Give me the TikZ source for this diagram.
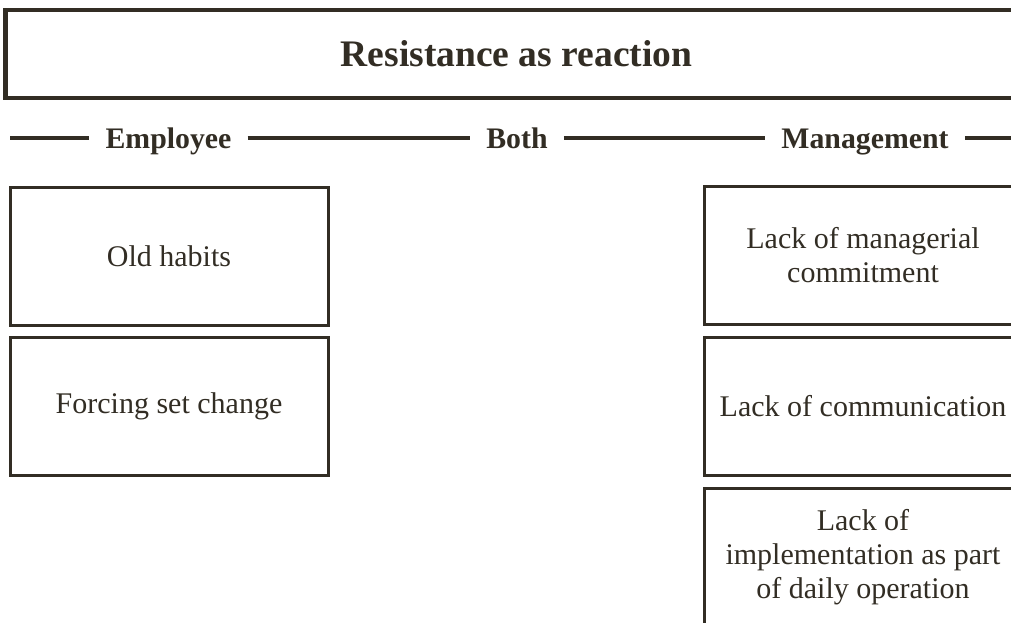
\documentclass[tikz,border=0pt]{standalone}
\usepackage{fontspec}
\setmainfont{Liberation Serif}
\definecolor{ink}{RGB}{50,45,36}
\begin{document}
\begin{tikzpicture}[x=1pt,y=-1pt,
  every node/.style={text=ink},
  headbox/.style={draw=ink, line width=4.2pt, minimum width=1022pt, minimum height=88pt,
    inner sep=0pt, font=\bfseries\fontsize{37.5}{40}\selectfont},
  cause/.style={draw=ink, line width=3pt, minimum width=318pt, minimum height=138pt,
    inner sep=0pt, align=center, font=\fontsize{30}{34}\selectfont},
  side/.style={anchor=base, inner xsep=16pt, inner ysep=0pt,
    font=\bfseries\fontsize{29.8}{33}\selectfont},
  rule/.style={draw=ink, line width=4.8pt},
]
\useasboundingbox (0,0) rectangle (1011,623);
\clip (0,0) rectangle (1011,623);

% title bar
\node[headbox] (title) at (516.5,53.7) {Resistance as reaction};

% the axis: employee -- both -- management
\coordinate (rowL) at (10,138);
\coordinate (rowR) at (1040,138);
\node[side] (emp)  at (168.5,148) {Employee};
\node[side] (both) at (517,148)   {Both};
\node[side] (mgmt) at (865,148)   {Management};
\draw[rule] (rowL) -- (rowL -| emp.west);
\draw[rule] (rowL -| emp.east) -- (rowL -| both.west);
\draw[rule] (rowL -| both.east) -- (rowL -| mgmt.west);
\draw[rule] (rowL -| mgmt.east) -- (rowR);

% employee side
\node[cause] (habits)  at (169,256.5) {Old habits};
\node[cause] (forcing) at (169,406.5) {Forcing set change};

% management side
\node[cause] (commit) at (863,255) {Lack of managerial\\commitment};
\node[cause] (comm)   at (863,406) {Lack of communication};
\node[cause] (daily)  at (863,557) {Lack of\\implementation as part\\of daily operation};
\end{tikzpicture}
\end{document}
